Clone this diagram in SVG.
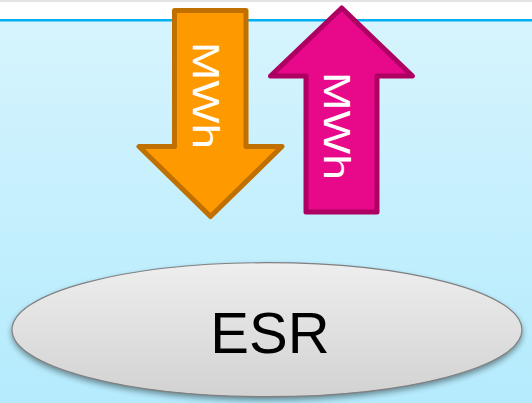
<svg xmlns="http://www.w3.org/2000/svg" width="532" height="403" viewBox="0 0 532 403">
  <defs>
    <linearGradient id="sky" x1="0" y1="0" x2="0" y2="1">
      <stop offset="0" stop-color="#d6f4fd"/>
      <stop offset="1" stop-color="#b4ebfd"/>
    </linearGradient>
    <linearGradient id="disc" x1="0" y1="0" x2="0" y2="1">
      <stop offset="0" stop-color="#eeeeee"/>
      <stop offset="1" stop-color="#d2d2d2"/>
    </linearGradient>
    <filter id="shadow" x="-10%" y="-20%" width="120%" height="150%">
      <feGaussianBlur stdDeviation="3"/>
    </filter>
    <style>
      .label { font-family: "Liberation Sans", Arial, sans-serif; }
      .mwh { font-size: 37px; fill: #ffffff; }
      .arrow { stroke-width: 5; stroke-linejoin: round; }
    </style>
  </defs>

  <!-- backdrop -->
  <rect x="0" y="0" width="532" height="403" fill="#ffffff"/>
  <rect x="0" y="0" width="532" height="2" fill="#e4e4e4"/>
  <rect x="0" y="21" width="532" height="382" fill="url(#sky)"/>
  <rect x="0" y="19" width="532" height="2.5" fill="#00b0f0"/>

  <!-- energy flowing down -->
  <g id="energy-in">
    <path class="arrow" d="M174.5,10.5 H246 V146.5 H282 L210.5,216.5 L139,146.5 H174.5 Z" fill="#ff9900" stroke="#c07000"/>
    <text class="label mwh" transform="translate(193,42) rotate(90)" x="0" y="0" textLength="107" lengthAdjust="spacingAndGlyphs">MWh</text>
  </g>

  <!-- energy flowing up -->
  <g id="energy-out">
    <path class="arrow" d="M341.7,8 L412.5,76 H377 V212 H306 V76 H270.5 Z" fill="#e8088a" stroke="#ad0062"/>
    <text class="label mwh" transform="translate(323.5,72) rotate(90)" x="0" y="0" textLength="108" lengthAdjust="spacingAndGlyphs">MWh</text>
  </g>

  <!-- storage resource -->
  <g id="esr">
    <ellipse cx="267" cy="333" rx="255" ry="67" fill="#000000" opacity="0.45" filter="url(#shadow)"/>
    <ellipse cx="267" cy="329.7" rx="255" ry="67" fill="url(#disc)" stroke="#808080" stroke-width="1.2"/>
    <text class="label" x="270" y="353" font-size="58" text-anchor="middle" fill="#000000">ESR</text>
  </g>
</svg>
